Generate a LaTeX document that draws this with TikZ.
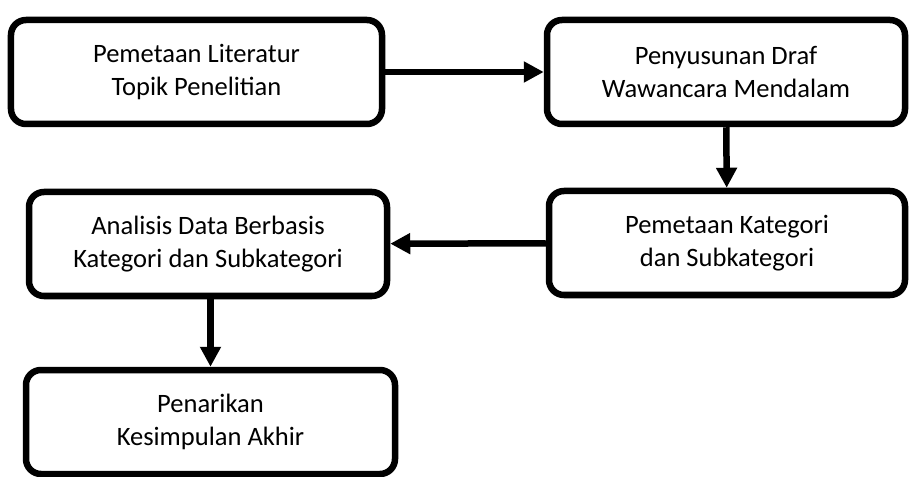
\documentclass[tikz,border=0pt]{standalone}
\usepackage{fontspec}
\setmainfont{Carlito}
\usetikzlibrary{arrows.meta}

\newcommand{\langkah}[5]{
\node[kotak, minimum width=#4cm] (#1) at (#2, #3) {#5};
}
\newcommand{\panah}[2]{
\draw[panah] (#1) -- (#2);
}

\begin{document}
\begin{tikzpicture}[
  kotak/.style={draw, line width=0.13cm, rounded corners=0.3cm,
    minimum height=2.08cm, align=center, inner sep=0pt,
    font=\fontsize{15.1pt}{18.4pt}\selectfont},
  panah/.style={line width=0.13cm, -{Triangle[length=0.4cm, width=0.4cm]}}
]
\useasboundingbox (0,0) rectangle (18.18,9.52);

\langkah{peta}{3.93}{8.08}{7.42}{Pemetaan Literatur\\Topik Penelitian}
\langkah{draf}{14.52}{8.08}{7.16}{Penyusunan Draf\\Wawancara Mendalam}
\langkah{kategori}{14.54}{4.66}{7.12}{Pemetaan Kategori\\dan Subkategori}
\langkah{analisis}{4.16}{4.64}{7.16}{Analisis Data Berbasis\\Kategori dan Subkategori}
\langkah{simpulan}{4.21}{1.08}{7.38}{Penarikan\\Kesimpulan Akhir}

\panah{peta}{draf}
\panah{draf}{kategori}
\panah{kategori}{analisis}
\panah{analisis.south -| simpulan.north}{simpulan.north}
% \draw[help lines] (0,0) grid (18,9);
\end{tikzpicture}
\end{document}
